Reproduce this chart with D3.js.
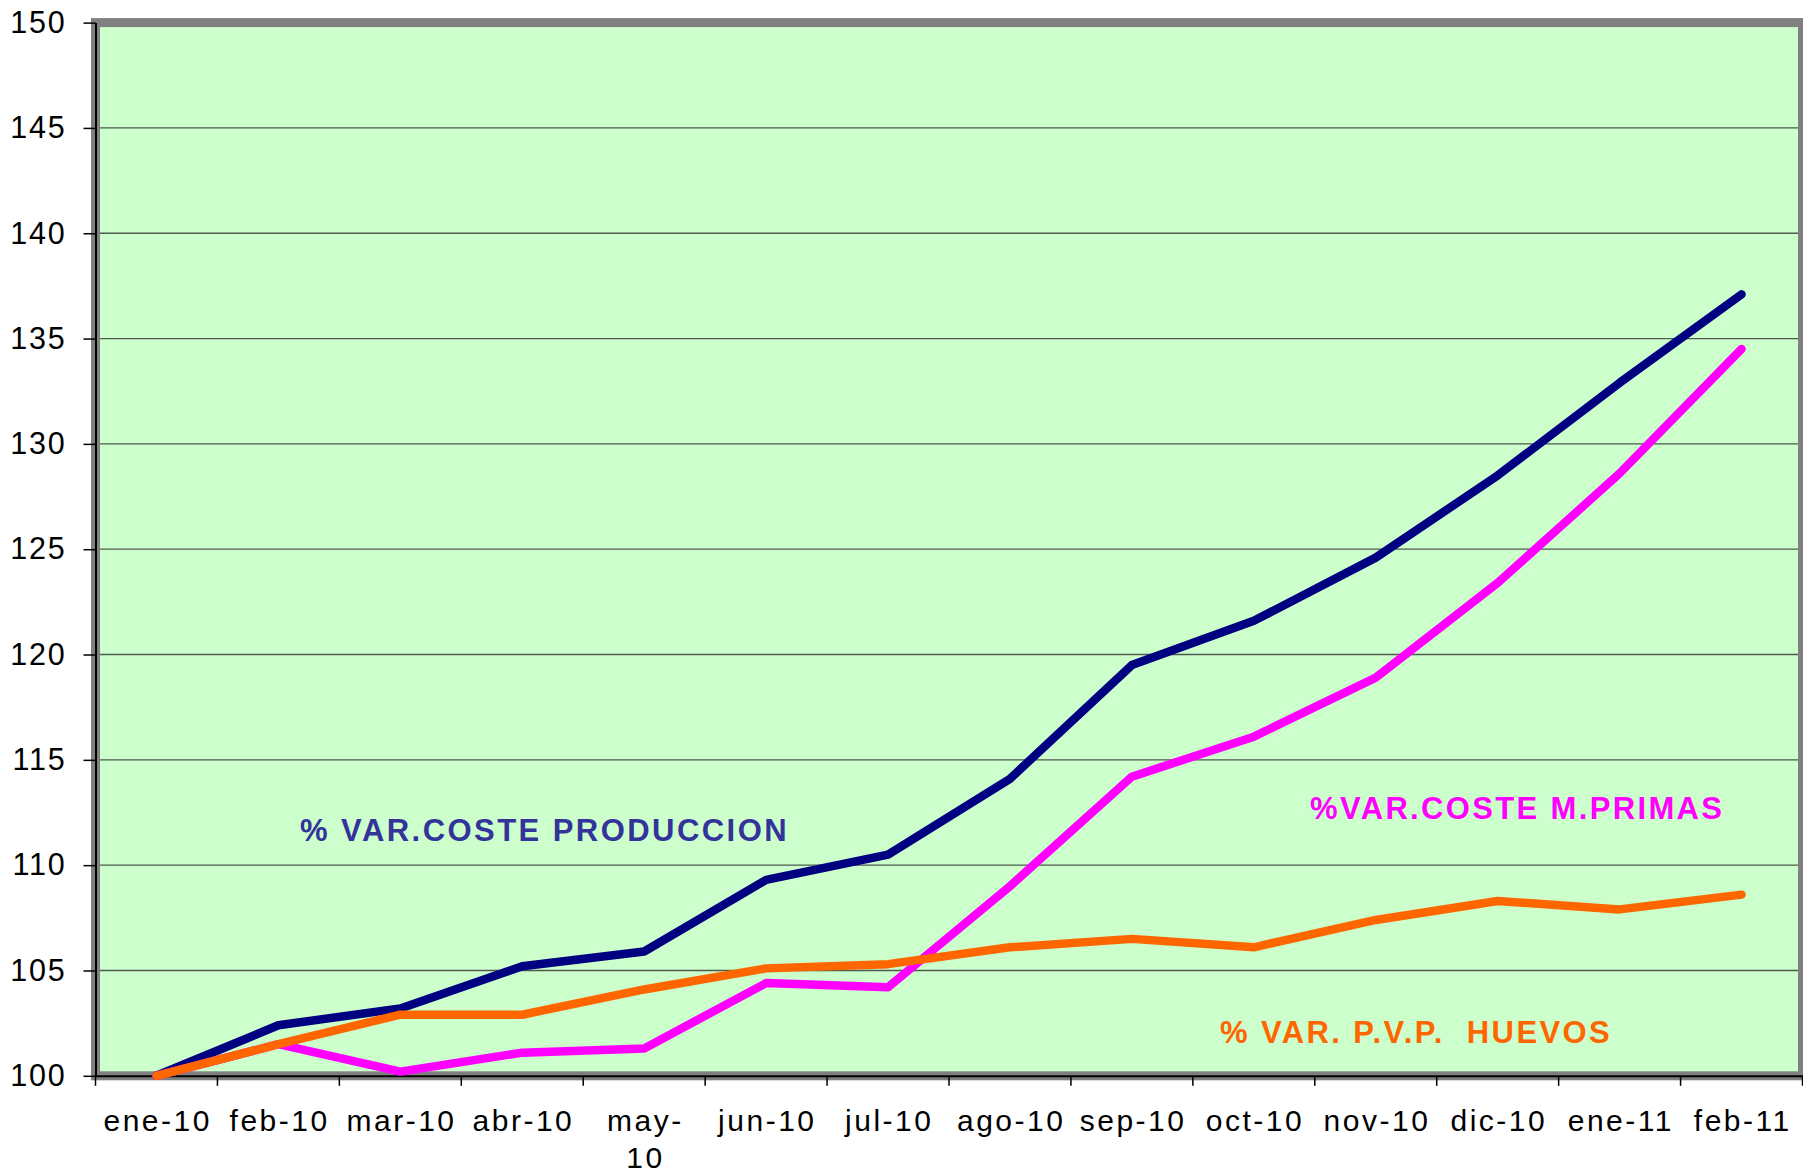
<!DOCTYPE html>
<html>
<head>
<meta charset="utf-8">
<script src="https://cdn.jsdelivr.net/npm/d3@7"></script>
<style>
  html, body { margin: 0; padding: 0; background: #ffffff; }
  svg { display: block; }
  text { font-family: "Liberation Sans", Arial, sans-serif; }
</style>
</head>
<body>
<svg id="chart" width="1803" height="1175"></svg>
<script>
// ---- data ----
const categories = ["ene-10","feb-10","mar-10","abr-10","may-10","jun-10","jul-10","ago-10","sep-10","oct-10","nov-10","dic-10","ene-11","feb-11"];
const tickLabels = [["ene-10"],["feb-10"],["mar-10"],["abr-10"],["may-","10"],["jun-10"],["jul-10"],["ago-10"],["sep-10"],["oct-10"],["nov-10"],["dic-10"],["ene-11"],["feb-11"]];
const costeProduccion = [100,102.4,103.2,105.2,105.9,109.3,110.5,114.1,119.5,121.6,124.6,128.5,132.9,137.1];
const costeMPrimas   = [100,101.5,100.2,101.1,101.3,104.4,104.2,109.0,114.2,116.1,118.9,123.4,128.6,134.5];
const pvpHuevos      = [100,101.5,102.9,102.9,104.1,105.1,105.3,106.1,106.5,106.1,107.4,108.3,107.9,108.6];
const yTicks = [100,105,110,115,120,125,130,135,140,145,150];
const seriesNames = ["% VAR.COSTE PRODUCCION", "%VAR.COSTE M.PRIMAS", "% VAR. P.V.P.  HUEVOS"];

// ---- layout ----
const plot = { left: 95.5, right: 1802.5, top: 22.6, bottom: 1075.8 };
const svg = d3.select("#chart");

const x = d3.scaleBand().domain(categories).range([plot.left, plot.right]).padding(0);
const y = d3.scaleLinear().domain([100, 150]).range([plot.bottom, plot.top]);
const cx = c => x(c) + x.bandwidth() / 2;

// plot area background
svg.append("rect")
  .attr("x", plot.left).attr("y", plot.top)
  .attr("width", plot.right - plot.left).attr("height", plot.bottom - plot.top)
  .attr("fill", "#CCFFCC");

// gridlines
svg.append("g").selectAll("line")
  .data(yTicks.filter(v => v > 100 && v < 150))
  .join("line")
  .attr("x1", plot.left).attr("x2", plot.right)
  .attr("y1", d => y(d)).attr("y2", d => y(d))
  .attr("stroke", "#4f5a4f").attr("stroke-width", 1.3);

// gray frame
svg.append("rect")
  .attr("x", plot.left).attr("y", plot.top)
  .attr("width", plot.right - plot.left).attr("height", plot.bottom - plot.top)
  .attr("fill", "none").attr("stroke", "#808080").attr("stroke-width", 9);

// y axis
const yAxis = d3.axisLeft(y).tickValues(yTicks).tickSize(12).tickPadding(17).tickSizeOuter(0);
const gy = svg.append("g").attr("transform", `translate(${plot.left},0)`).call(yAxis);
gy.select(".domain").attr("stroke", "#000").attr("stroke-width", 2);
gy.selectAll(".tick line").attr("stroke", "#000").attr("stroke-width", 1.5);
gy.selectAll(".tick text")
  .attr("font-size", 30.5).attr("fill", "#000")
  .attr("font-family", "Liberation Sans, Arial, sans-serif")
  .style("letter-spacing", "1.8px");

// x axis
const xAxis = d3.axisBottom(x).tickSize(0).tickSizeOuter(0).tickFormat("");
const gx = svg.append("g").attr("transform", `translate(0,${plot.bottom})`).call(xAxis);
gx.select(".domain").attr("stroke", "#000").attr("stroke-width", 2);
gx.selectAll(".tick").remove();
// boundary ticks
const boundaries = categories.map(c => x(c)).concat([x(categories[categories.length - 1]) + x.bandwidth()]);
gx.selectAll("line.btick").data(boundaries).join("line")
  .attr("class", "btick")
  .attr("x1", d => d).attr("x2", d => d)
  .attr("y1", 0).attr("y2", 10)
  .attr("stroke", "#000").attr("stroke-width", 1.5);
// labels
const lbl = gx.selectAll("text.cat").data(categories).join("text")
  .attr("class", "cat")
  .attr("text-anchor", "middle")
  .attr("font-size", 30)
  .attr("fill", "#000")
  .style("letter-spacing", "2.5px")
  .attr("transform", d => `translate(${cx(d) + 1.2},55.5)`);
lbl.each(function(d, i) {
  const t = d3.select(this);
  tickLabels[i].forEach((line, j) => {
    t.append("tspan").attr("x", 0).attr("y", j * 36.5).text(line);
  });
});

// lines
const line = d3.line().x((d, i) => cx(categories[i])).y(d => y(d));
const series = [
  { values: costeProduccion, color: "#000080" },
  { values: costeMPrimas, color: "#FF00FF" },
  { values: pvpHuevos, color: "#FF6600" }
];
svg.append("g").selectAll("path").data(series).join("path")
  .attr("d", d => line(d.values))
  .attr("fill", "none")
  .attr("stroke", d => d.color)
  .attr("stroke-width", 8.5)
  .attr("stroke-linecap", "round")
  .attr("stroke-linejoin", "round");

// annotations
const notes = [
  { text: seriesNames[0], color: "#333399", x: 300, v: 111.13, ls: 2.45 },
  { text: seriesNames[1], color: "#FF00FF", x: 1310, v: 112.2, ls: 2.35 },
  { text: seriesNames[2], color: "#FF6600", x: 1220, v: 101.55, ls: 2.4 }
];
svg.append("g").selectAll("text").data(notes).join("text")
  .attr("x", d => d.x)
  .attr("y", d => y(d.v))
  .attr("font-size", 31)
  .attr("font-weight", "bold")
  .attr("fill", d => d.color)
  .style("letter-spacing", d => d.ls + "px")
  .style("white-space", "pre")
  .attr("xml:space", "preserve")
  .text(d => d.text);
</script>
</body>
</html>
